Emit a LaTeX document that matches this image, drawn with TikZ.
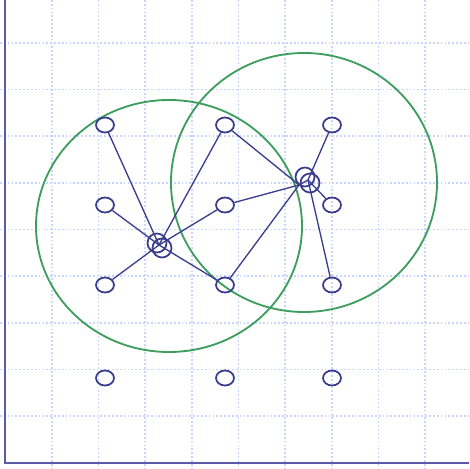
\documentclass[tikz,border=0pt]{standalone}
\usetikzlibrary{shapes.geometric}
\definecolor{gridc}{HTML}{C8D6FF}
\definecolor{axisc}{HTML}{5A5AA6}
\definecolor{nodec}{HTML}{3A3C8E}
\definecolor{greenc}{HTML}{3E9E5E}
\newcommand{\pxu}{*0.02cm}
\tikzset{
  pt/.style={draw=nodec, line width=1pt, ellipse, minimum width=18\pxu, minimum height=15\pxu, inner sep=0pt},
  hubc/.style={draw=nodec, line width=1pt, circle, minimum size=19\pxu, inner sep=0pt},
  link/.style={draw=nodec, line width=0.75pt},
  big/.style={draw=greenc, line width=1.05pt},
  gridl/.style={draw=gridc, line width=1pt, dash pattern=on 1pt off 1.2pt},
  axis/.style={draw=axisc, line width=1.4pt}
}
\begin{document}
\begin{tikzpicture}[x=0.02cm,y=-0.02cm]
\useasboundingbox (0,0) rectangle (469,469);
\fill[white] (0,0) rectangle (469,469);
% grid
\foreach \k in {1,...,9} {
  \draw[gridl] ({5+46.7*\k},0) -- ({5+46.7*\k},469);
  \draw[gridl] (0,{463-46.7*\k}) -- (469,{463-46.7*\k});
}
% axes
\coordinate (o) at (5,463);
\coordinate (ytop) at (5,0);
\coordinate (xend) at (469,463);
\draw[axis] (ytop) -- (o) -- (xend);
% big circles
\draw[big] (169,226) ellipse [x radius=133, y radius=126];
\draw[big] (304,182.5) ellipse [x radius=133, y radius=129.5];
% points
\node[pt] (a1) at (105,125) {};
\node[pt] (a2) at (225,125) {};
\node[pt] (a3) at (332,125) {};
\node[pt] (b1) at (105,205) {};
\node[pt] (b2) at (225,205) {};
\node[pt] (b3) at (332,205) {};
\node[pt] (c1) at (105,285) {};
\node[pt] (c2) at (225,285) {};
\node[pt] (c3) at (332,285) {};
\node[pt] (d1) at (105,378) {};
\node[pt] (d2) at (225,378) {};
\node[pt] (d3) at (332,378) {};
% hubs
\coordinate (h1) at (159,245);
\node[hubc] (h1a) at (157,243) {};
\node[hubc] (h1b) at (162,248) {};
\coordinate (h2) at (299,185);
\coordinate (h2r) at (308,180);
\node[hubc] (h2a) at (305,177) {};
\node[hubc] (h2b) at (310,183) {};
% links
\foreach \n in {a1,a2,b1,b2,c1,c2} \draw[link] (h1) -- (\n);
\foreach \n in {a2,b2,c2} \draw[link] (h2) -- (\n);
\foreach \n in {a3,b3,c3} \draw[link] (h2r) -- (\n);
\draw[link] (h2) -- (h2r);
\end{tikzpicture}
\end{document}
